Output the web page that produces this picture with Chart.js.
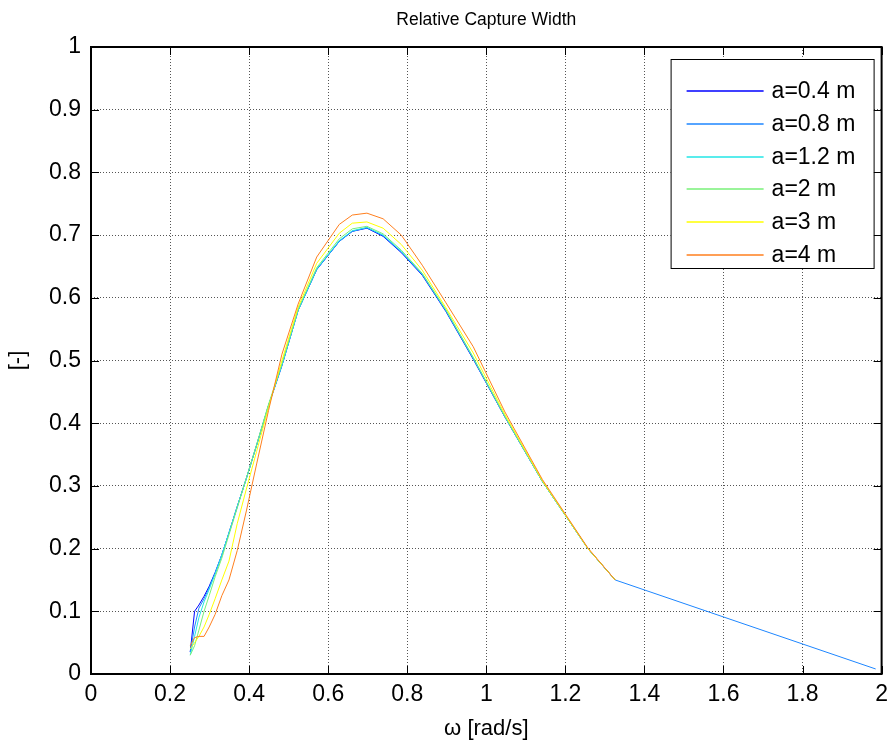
<!DOCTYPE html>
<html>
<head>
<meta charset="utf-8">
<script src="https://cdn.jsdelivr.net/npm/chart.js@4"></script>
<style>
  body { margin: 0; background: #fff; }
</style>
</head>
<body>
<canvas id="cw_chart" width="895" height="742"></canvas>
<script>
// wave frequency samples [rad/s]
const omega = [0.251, 0.262, 0.273, 0.286, 0.299, 0.314, 0.331, 0.349, 0.370, 0.393,
               0.419, 0.449, 0.483, 0.524, 0.571, 0.628, 0.661, 0.698, 0.739, 0.785,
               0.838, 0.898, 0.967, 1.047, 1.142, 1.257, 1.326, 1.985];

// relative capture width per amplitude
const cw04 = [0.035, 0.100, 0.110, 0.124, 0.140, 0.162, 0.190, 0.225, 0.267, 0.312,
              0.365, 0.428, 0.492, 0.580, 0.645, 0.690, 0.706, 0.711, 0.698, 0.672,
              0.636, 0.578, 0.502, 0.410, 0.307, 0.200, 0.150];
const cw08 = [0.035, 0.075, 0.105, 0.120, 0.138, 0.160, 0.190, 0.225, 0.267, 0.312,
              0.365, 0.428, 0.492, 0.580, 0.645, 0.690, 0.706, 0.712, 0.699, 0.673,
              0.637, 0.579, 0.503, 0.410, 0.307, 0.200, 0.150, 0.008];
const cw12 = [0.030, 0.060, 0.090, 0.115, 0.135, 0.160, 0.190, 0.225, 0.267, 0.312,
              0.365, 0.428, 0.493, 0.580, 0.646, 0.691, 0.707, 0.712, 0.700, 0.674,
              0.638, 0.580, 0.504, 0.411, 0.307, 0.200, 0.150];
const cw2  = [0.030, 0.045, 0.070, 0.100, 0.125, 0.155, 0.185, 0.222, 0.265, 0.312,
              0.366, 0.430, 0.495, 0.582, 0.648, 0.694, 0.710, 0.714, 0.702, 0.676,
              0.639, 0.581, 0.505, 0.411, 0.307, 0.200, 0.150];
const cw3  = [0.040, 0.050, 0.060, 0.075, 0.095, 0.120, 0.150, 0.180, 0.240, 0.295,
              0.355, 0.425, 0.500, 0.585, 0.655, 0.703, 0.719, 0.721, 0.711, 0.685,
              0.644, 0.584, 0.512, 0.414, 0.308, 0.200, 0.150];
const cw4  = [0.045, 0.058, 0.060, 0.060, 0.075, 0.095, 0.125, 0.150, 0.197, 0.260,
              0.335, 0.420, 0.510, 0.590, 0.665, 0.717, 0.732, 0.735, 0.726, 0.700,
              0.652, 0.592, 0.522, 0.418, 0.310, 0.201, 0.150];

const seriesLabels = ['a=0.4 m', 'a=0.8 m', 'a=1.2 m', 'a=2 m', 'a=3 m', 'a=4 m'];
const seriesValues = [cw04, cw08, cw12, cw2, cw3, cw4];
const seriesColors = ['#0000ff', '#1e86ff', '#22e6e6', '#78f078', '#ffff00', '#ff7f1e'];

const xTicks = [0, 0.2, 0.4, 0.6, 0.8, 1, 1.2, 1.4, 1.6, 1.8, 2];
const yTicks = [0, 0.1, 0.2, 0.3, 0.4, 0.5, 0.6, 0.7, 0.8, 0.9, 1];

const chartTitle = 'Relative Capture Width';
const FONT = 'Arial, "Liberation Sans", sans-serif';

// matlab style: title over the axes, box, inward ticks, legend box inside
const matlabAxes = {
    id: 'matlabAxes',
    afterDraw(chart) {
        const ctx = chart.ctx;
        const a = chart.chartArea;
        const xs = chart.scales.x, ys = chart.scales.y;
        ctx.save();

        ctx.fillStyle = '#000';
        ctx.font = '17.5px ' + FONT;
        ctx.textAlign = 'center';
        ctx.textBaseline = 'middle';
        ctx.fillText(chartTitle, (a.left + a.right) / 2, 20);

        ctx.strokeStyle = '#000';
        ctx.lineWidth = 1;
        ctx.beginPath();
        xTicks.forEach(v => {
            const px = Math.round(xs.getPixelForValue(v)) + 0.5;
            ctx.moveTo(px, a.bottom); ctx.lineTo(px, a.bottom - 8);
            ctx.moveTo(px, a.top); ctx.lineTo(px, a.top + 8);
        });
        yTicks.forEach(v => {
            const py = Math.round(ys.getPixelForValue(v)) + 0.5;
            ctx.moveTo(a.left, py); ctx.lineTo(a.left + 8, py);
            ctx.moveTo(a.right, py); ctx.lineTo(a.right - 8, py);
        });
        ctx.stroke();
        ctx.lineWidth = 2;
        ctx.strokeRect(a.left, a.top, a.right - a.left, a.bottom - a.top);

        // legend
        const w = 203, h = 209;
        const bx = a.right - 8 - w, by = a.top + 12;
        ctx.fillStyle = '#fff';
        ctx.fillRect(bx, by, w, h);
        ctx.lineWidth = 1;
        ctx.strokeRect(bx + 0.5, by + 0.5, w, h);
        ctx.font = '23px ' + FONT;
        ctx.textBaseline = 'middle';
        ctx.textAlign = 'left';
        seriesLabels.forEach((lab, i) => {
            const ry = Math.round(by + 32 + i * 32.8);
            ctx.strokeStyle = seriesColors[i];
            ctx.lineWidth = 1.3;
            ctx.beginPath();
            ctx.moveTo(bx + 16, ry); ctx.lineTo(bx + 93, ry);
            ctx.stroke();
            ctx.fillStyle = '#000';
            ctx.fillText(lab, bx + 101, ry + 1);
        });
        ctx.restore();
    }
};

function initializeChart() {
    const ctx = document.getElementById('cw_chart').getContext('2d');

    const datasets = seriesValues.map((vals, i) => ({
        label: seriesLabels[i],
        data: vals.map((y, j) => ({x: omega[j], y: y})),
        borderColor: seriesColors[i],
        borderWidth: 1,
        pointRadius: 0,
        tension: 0,
        fill: false,
        order: seriesValues.length - i // later series on top, like matlab
    }));

    new Chart(ctx, {
        type: 'line',
        data: { datasets: datasets },
        options: {
            responsive: false,
            animation: false,
            layout: { padding: { left: 0, right: 13, top: 47, bottom: 0 } },
            scales: {
                x: {
                    type: 'linear',
                    min: 0,
                    max: 2,
                    afterBuildTicks: s => { s.ticks = xTicks.map(v => ({value: v})); },
                    afterFit: s => { s.height = 68; },
                    ticks: {
                        color: '#000',
                        padding: 7,
                        font: { family: FONT, size: 23 },
                        callback: v => String(+v.toFixed(1))
                    },
                    grid: { color: '#555', drawTicks: false },
                    border: { display: false, dash: [1, 2] },
                    title: {
                        display: true,
                        text: 'ω [rad/s]',
                        color: '#000',
                        font: { family: FONT, size: 22 },
                        padding: { top: 0, bottom: 0 }
                    }
                },
                y: {
                    type: 'linear',
                    min: 0,
                    max: 1,
                    afterBuildTicks: s => { s.ticks = yTicks.map(v => ({value: v})); },
                    afterFit: s => { s.width = 91; },
                    ticks: {
                        color: '#000',
                        padding: 10,
                        font: { family: FONT, size: 23 },
                        callback: v => String(+v.toFixed(1))
                    },
                    grid: { color: '#555', drawTicks: false },
                    border: { display: false, dash: [1, 2] },
                    title: {
                        display: true,
                        text: '[-]',
                        color: '#000',
                        font: { family: FONT, size: 22 },
                        padding: { top: 5, bottom: 0 }
                    }
                }
            },
            plugins: {
                title: { display: false },
                legend: { display: false },
                tooltip: { enabled: false }
            }
        },
        plugins: [matlabAxes]
    });
}

document.addEventListener('DOMContentLoaded', initializeChart);
</script>
</body>
</html>
